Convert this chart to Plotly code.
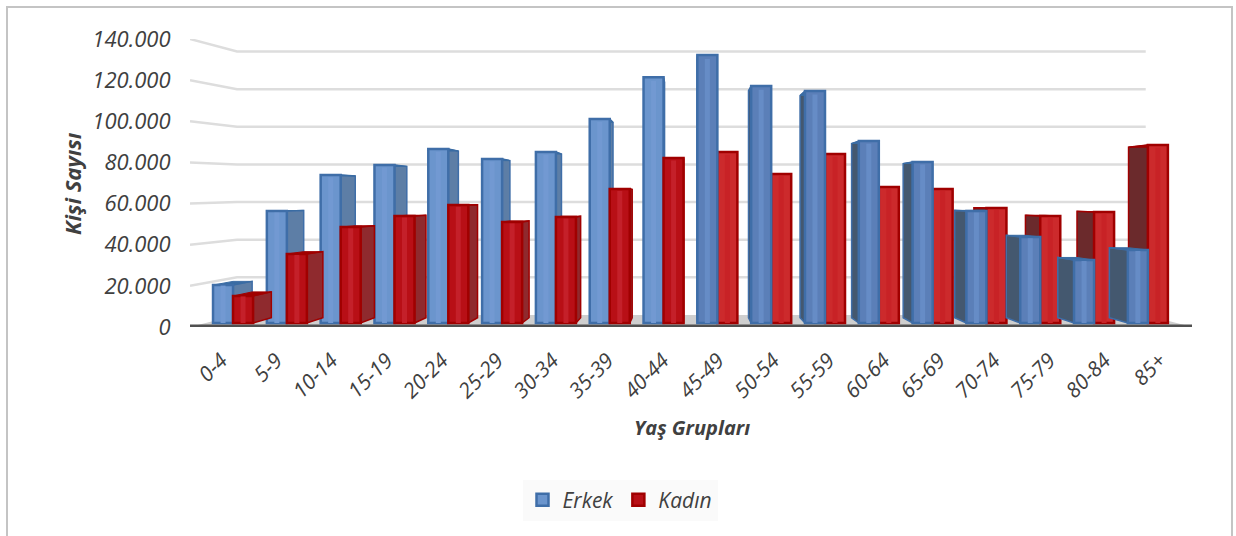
import plotly.graph_objects as go

categories = ["0-4","5-9","10-14","15-19","20-24","25-29","30-34","35-39","40-44","45-49",
              "50-54","55-59","60-64","65-69","70-74","75-79","80-84","85+"]
erkek = [18700,55200,72900,77800,85700,80800,84200,100500,121000,132000,
         116700,114300,89600,79300,55200,42400,31000,36000]
kadin = [13300,34000,47300,52700,58100,49800,52200,66000,81300,84200,
         73400,83200,67000,66000,56600,52700,54700,87700]
y_ticks = [0,20000,40000,60000,80000,100000,120000,140000]
y_labels = ["0","20.000","40.000","60.000","80.000","100.000","120.000","140.000"]

W, H = 1236, 536
FONT = "Open Sans"
TXT = "#404040"
BW = 0.372
A = 0.042            # depth of the bars, as a share of the way to the vanishing point
VX, VY = 8.45, 61600
idx = list(range(len(categories)))
label_pos = [8.5 + (i-8.5)*1.026 for i in idx]   # labels fan out slightly wider than the bars

def back(x, v):
    return x + A*(VX-x), v + A*(VY-v)

def side_faces(vals, off, ids):
    xs, ys = [], []
    for i in ids:
        x0, x1 = i+off-BW/2, i+off+BW/2
        x = x1 if i+off < VX else x0
        bx, bt = back(x, vals[i]); _, bb = back(x, 0)
        xs += [x, bx, bx, x, x, None]; ys += [vals[i], bt, bb, 0, vals[i], None]
    return xs, ys

def top_faces(vals, off, ids):
    xs, ys = [], []
    for i in ids:
        x0, x1 = i+off-BW/2, i+off+BW/2
        b0, t = back(x0, vals[i]); b1, _ = back(x1, vals[i])
        xs += [x0, b0, b1, x1, x0, None]; ys += [vals[i], t, t, vals[i], vals[i], None]
    return xs, ys

fig = go.Figure()

# back wall gridlines and floor, on the labelled axis
XL, XB0, XB1, XR = -0.8, 0.074, 16.96, 17.82
W_OFF, W_K = 5854, 0.9146
gx, gy = [], []
for t in y_ticks[1:]:
    gx += [XL, XB0, XB1, None]; gy += [t, W_OFF+W_K*t, W_OFF+W_K*t, None]
fig.add_trace(go.Scatter(x=gx, y=gy, mode="lines", line=dict(color="#dddddd", width=2.5),
                         hoverinfo="skip", showlegend=False, yaxis="y"))
fig.add_trace(go.Scatter(x=[XL, XB0, XB1, XR, XL], y=[0, W_OFF, W_OFF, 0, 0], mode="lines",
                         fill="toself", fillcolor="#cfcfcf", line=dict(width=0),
                         hoverinfo="skip", showlegend=False, yaxis="y"))
fig.add_trace(go.Scatter(x=[XL, XR], y=[0, 0], mode="lines", line=dict(color="#505050", width=5),
                         cliponaxis=False, hoverinfo="skip", showlegend=False, yaxis="y"))

E = dict(name="Erkek", line="#3f6ea8", top="#3a6ca3")
K = dict(name="Kadın", line="#a00000", top="#a00000")

def add_series(s, vals, off, ids, z, legend, side, fill, stripe):
    sx, sy = side_faces(vals, off, ids)
    fig.add_trace(go.Scatter(x=sx, y=sy, mode="lines", fill="toself", fillcolor=side,
                             line=dict(color=s["line"], width=1.5), hoverinfo="skip",
                             showlegend=False, yaxis="y2", zorder=z))
    tx, ty = top_faces(vals, off, ids)
    fig.add_trace(go.Scatter(x=tx, y=ty, mode="lines", fill="toself", fillcolor=s["top"],
                             line=dict(color=s["top"], width=1), hoverinfo="skip",
                             showlegend=False, yaxis="y2", zorder=z))
    fig.add_trace(go.Bar(x=[i+off for i in ids], y=[vals[i] for i in ids], width=BW, name=s["name"],
                         marker=dict(color=fill, line=dict(color=s["line"], width=2.5)),
                         showlegend=legend, yaxis="y2", zorder=z+1))
    fig.add_trace(go.Bar(x=[i+off for i in ids], y=[vals[i]*0.985 for i in ids], width=BW*0.25,
                         marker=dict(color=stripe, line=dict(width=0)), hoverinfo="skip",
                         showlegend=False, yaxis="y2", zorder=z+1))

left = [i for i in idx if i <= 8]
right = [i for i in idx if i > 8]
add_series(E, erkek, -BW/2, left, 1, True, "#5d7ea6", "#6b95cd", "#7299d2")
add_series(K, kadin, BW/2, left, 3, True, "#8f2a2e", "#b80f16", "#c4202a")
add_series(K, kadin, BW/2, right, 1, False, "#6b2a2c", "#cc2a2c", "#c82226")
add_series(E, erkek, -BW/2, right, 3, False, "#44586f", "#5b7fb8", "#668cc6")

fig.update_layout(
    width=W, height=H, margin=dict(l=0, r=0, t=0, b=0, autoexpand=False), paper_bgcolor="white", plot_bgcolor="rgba(0,0,0,0)",
    barmode="overlay", font=dict(family=FONT, color=TXT),
    xaxis=dict(domain=[190/W, 1192/W], range=[XL, XR], tickmode="array", tickvals=label_pos, ticktext=categories,
               tickangle=-45, tickfont=dict(size=21, style="italic", color=TXT), showgrid=False, zeroline=False,
               showline=False, ticks="outside", ticklen=12, tickcolor="rgba(0,0,0,0)"),
    yaxis=dict(domain=[1-327/H, 1-39/H], range=[0, 140000], tickmode="array", tickvals=y_ticks, ticktext=y_labels,
               tickfont=dict(size=22, style="italic", color=TXT), showgrid=False, zeroline=False, showline=False,
               ticks="outside", ticklen=14, tickcolor="rgba(0,0,0,0)"),
    yaxis2=dict(overlaying="y", range=[-1970, 139901], visible=False),
    legend=dict(orientation="h", x=620/W, xanchor="center", y=1-500/H, yanchor="middle", bgcolor="#fafafa",
                font=dict(size=21, style="italic", color=TXT), itemwidth=30, traceorder="normal"),
    annotations=[
        dict(text="<b><i>Kişi Sayısı</i></b>", x=72/W, y=1-184/H, xref="paper", yref="paper", showarrow=False,
             xanchor="center", yanchor="middle", textangle=-90, font=dict(size=22, color=TXT)),
        dict(text="<b><i>Yaş Grupları</i></b>", x=692/W, y=1-427/H, xref="paper", yref="paper", showarrow=False,
             xanchor="center", yanchor="middle", font=dict(size=20, color=TXT)),
    ],
    shapes=[dict(type="path", xref="paper", yref="paper",
                 path=f"M {7/W} 0 L {7/W} {1-7/H} L {1232/W} {1-7/H} L {1232/W} 0",
                 line=dict(color="#c4c4c4", width=2))],
)

fig.write_html("out.html", post_script="document.body.style.margin='0';", config=dict(displayModeBar=False))
